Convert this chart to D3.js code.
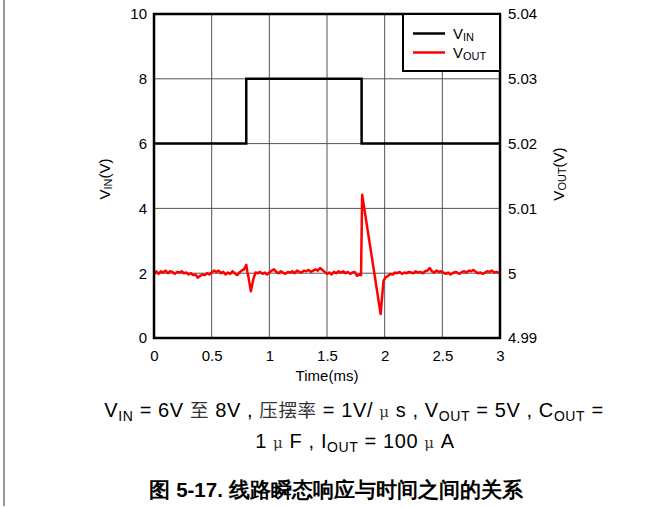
<!DOCTYPE html>
<html><head><meta charset="utf-8">
<script src="https://cdn.jsdelivr.net/npm/d3@7/dist/d3.min.js"></script>
<style>
body{margin:0;background:#fff;}
svg{display:block;}
text{font-family:"Liberation Sans",Arial,sans-serif;}
.cjk{font-family:"Noto Sans CJK SC",sans-serif;}
</style></head><body>
<svg id="c" width="662" height="508"></svg>
<script>
// ---- data ----
const xTicks = [0, 0.5, 1, 1.5, 2, 2.5, 3];
const xTickLabels = ["0", "0.5", "1", "1.5", "2", "2.5", "3"];
const yLeftTicks = [0, 2, 4, 6, 8, 10];
const yRightTicks = [4.99, 5, 5.01, 5.02, 5.03, 5.04];
const yRightLabels = ["4.99", "5", "5.01", "5.02", "5.03", "5.04"];

const vinTime  = [0, 0.80, 0.80, 1.80, 1.80, 3.0];
const vinValue = [6, 6, 8, 8, 6, 6];

const voutTime = [
 0.00,0.02,0.04,0.06,0.08,0.10,0.12,0.14,0.16,0.18,0.20,0.22,0.24,0.26,0.28,0.30,0.32,0.34,0.36,0.38,
 0.40,0.42,0.44,0.46,0.48,0.50,0.52,0.54,0.56,0.58,0.60,0.62,0.64,0.66,0.68,0.70,0.72,0.74,0.76,0.78,
 0.80,0.81,0.82,0.84,0.86,0.88,0.90,0.92,0.94,0.96,0.98,1.00,1.02,1.04,1.06,1.08,1.10,1.12,1.14,1.16,
 1.18,1.20,1.22,1.24,1.26,1.28,1.30,1.32,1.34,1.36,1.38,1.40,1.42,1.44,1.46,1.48,1.50,1.52,1.54,1.56,
 1.58,1.60,1.62,1.64,1.66,1.68,1.70,1.72,1.74,1.76,1.78,1.795,1.805,1.965,1.99,2.01,2.03,2.05,2.07,2.09,
 2.11,2.13,2.15,2.17,2.19,2.21,2.23,2.25,2.27,2.29,2.31,2.33,2.35,2.37,2.39,2.41,2.43,2.45,2.47,2.49,
 2.51,2.53,2.55,2.57,2.59,2.61,2.63,2.65,2.67,2.69,2.71,2.73,2.75,2.77,2.79,2.81,2.83,2.85,2.87,2.89,
 2.91,2.93,2.95,2.97,3.00
];
const voutValue = [
 4.9998,5.0003,4.9999,5.0003,5.0001,5.0004,5.0000,5.0003,5.0002,4.9999,5.0002,5.0001,5.0003,5.0000,5.0001,4.9998,5.0000,4.9997,4.9998,4.9993,
 4.9996,4.9998,4.9997,5.0000,4.9998,5.0001,5.0004,5.0002,5.0004,5.0000,5.0002,4.9998,5.0001,4.9999,5.0003,5.0000,4.9997,5.0001,5.0004,5.0006,
 5.0013,5.0002,4.9993,4.9972,4.9990,5.0001,5.0000,5.0002,4.9999,5.0001,4.9998,5.0001,5.0004,5.0006,5.0002,5.0000,5.0003,5.0001,4.9999,5.0002,
 5.0001,5.0003,5.0000,5.0004,5.0002,5.0001,5.0004,5.0003,5.0005,5.0002,5.0004,5.0006,5.0004,5.0008,5.0005,5.0002,4.9999,5.0001,4.9998,5.0002,
 5.0000,5.0003,5.0001,5.0003,5.0000,5.0002,4.9999,5.0001,5.0002,4.9996,4.9998,4.9997,5.0121,4.9937,4.9988,4.9994,4.9996,4.9999,4.9998,5.0001,
 5.0000,5.0002,4.9999,5.0001,5.0000,5.0002,5.0001,5.0000,5.0003,5.0001,5.0002,5.0000,5.0003,5.0004,5.0008,5.0003,5.0001,5.0004,5.0002,5.0003,
 5.0001,4.9999,5.0001,4.9998,5.0000,5.0002,5.0001,4.9999,5.0002,5.0003,5.0001,5.0004,5.0003,5.0005,5.0002,5.0000,5.0001,4.9999,5.0001,5.0003,
 5.0002,5.0004,5.0001,5.0002,5.0000
];

// ---- layout ----
const svg = d3.select("#c");
const L = 154, R = 500, T = 14, B = 338;
const x = d3.scaleLinear().domain([0, 3]).range([L, R]);
const yL = d3.scaleLinear().domain([0, 10]).range([B, T]);
const yR = d3.scaleLinear().domain([4.99, 5.04]).range([B, T]);

// page left border line
svg.append("line").attr("x1",4).attr("x2",4).attr("y1",0).attr("y2",506)
  .attr("stroke","#777").attr("stroke-width",1.5);

// grid
const g = svg.append("g");
g.selectAll(".vg").data(xTicks.slice(1,-1)).join("line")
  .attr("x1", d=>x(d)).attr("x2", d=>x(d)).attr("y1", T).attr("y2", B)
  .attr("stroke", "#555").attr("stroke-width", 1);
g.selectAll(".hg").data(yLeftTicks.slice(1,-1)).join("line")
  .attr("x1", L).attr("x2", R).attr("y1", d=>yL(d)).attr("y2", d=>yL(d))
  .attr("stroke", "#555").attr("stroke-width", 1);

// axes (labels only)
const axL = svg.append("g").attr("transform", `translate(${L},0)`)
  .call(d3.axisLeft(yL).tickValues(yLeftTicks).tickSize(0).tickPadding(7));
const axR = svg.append("g").attr("transform", `translate(${R},0)`)
  .call(d3.axisRight(yR).tickValues(yRightTicks).tickSize(0).tickPadding(8)
  .tickFormat((d,i)=>yRightLabels[i]));
const axB = svg.append("g").attr("transform", `translate(0,${B})`)
  .call(d3.axisBottom(x).tickValues(xTicks).tickSize(0).tickPadding(12)
  .tickFormat((d,i)=>xTickLabels[i]));
[axL, axR, axB].forEach(a=>{
  a.select(".domain").remove();
  a.selectAll("text").attr("font-size", 15).attr("fill","#000")
   .attr("font-family",'"Liberation Sans",Arial,sans-serif');
});

// lines
const lineVin = d3.line().x((d,i)=>x(vinTime[i])).y((d,i)=>yL(vinValue[i]));
svg.append("path").attr("d", lineVin(vinTime)).attr("fill","none")
  .attr("stroke","#000").attr("stroke-width",2.5);
const lineVout = d3.line().x((d,i)=>x(voutTime[i])).y((d,i)=>yR(voutValue[i]));
svg.append("path").attr("d", lineVout(voutTime)).attr("fill","none")
  .attr("stroke","#ff0000").attr("stroke-width",2.5).attr("stroke-linejoin","round");

// frame
svg.append("rect").attr("x",L).attr("y",T).attr("width",R-L).attr("height",B-T)
  .attr("fill","none").attr("stroke","#000").attr("stroke-width",2.5);

// legend
const lg = svg.append("g");
lg.append("rect").attr("x",403).attr("y",T).attr("width",R-403).attr("height",57)
  .attr("fill","#fff").attr("stroke","#000").attr("stroke-width",2);
const legItems = [{n:"V", s:"IN", c:"#000", y:33.5},{n:"V", s:"OUT", c:"#ff0000", y:52.5}];
legItems.forEach(it=>{
  lg.append("line").attr("x1",413).attr("x2",445).attr("y1",it.y).attr("y2",it.y)
    .attr("stroke",it.c).attr("stroke-width",2.5);
  const t = lg.append("text").attr("x",453).attr("y",it.y+5).attr("font-size",15);
  t.append("tspan").text(it.n);
  t.append("tspan").attr("font-size",11).attr("dy",2).text(it.s);
});

// axis titles
const tl = svg.append("text").attr("transform","translate(110,179) rotate(-90)")
  .attr("text-anchor","middle").attr("font-size",15);
tl.append("tspan").text("V");
tl.append("tspan").attr("font-size",11).attr("dy",2).text("IN");
tl.append("tspan").attr("dy",-2).text("(V)");
const tr = svg.append("text").attr("transform","translate(564,174) rotate(-90)")
  .attr("text-anchor","middle").attr("font-size",15);
tr.append("tspan").text("V");
tr.append("tspan").attr("font-size",11).attr("dy",2).text("OUT");
tr.append("tspan").attr("dy",-2).text("(V)");
svg.append("text").attr("x",327).attr("y",381).attr("text-anchor","middle")
  .attr("font-size",15).text("Time(ms)");

// caption: flowing segments [text, kind]
function cap(y, cx, segs){
  const t = svg.append("text").attr("x",cx).attr("y",y).attr("text-anchor","middle")
    .attr("font-size",20).attr("letter-spacing",0.6);
  let shift = 0;
  segs.forEach(s=>{
    const target = s[1]==="sub" ? 4 : 0;
    const sp = t.append("tspan").attr("dy", target - shift).text(s[0]);
    shift = target;
    if(s[1]==="cjk") sp.attr("class","cjk").attr("font-size",18.5).attr("fill","#333");
    if(s[1]==="mu") sp.attr("font-family",'"DejaVu Serif",serif').attr("font-size",15).attr("fill","#333");
    if(s[1]==="sub") sp.attr("font-size",14);
  });
}
cap(417, 354, [["V"],["IN","sub"],[" = 6V "],["至","cjk"],[" 8V , "],["压摆率","cjk"],[" = 1V/ "],["μ","mu"],[" s , V"],
  ["OUT","sub"],[" = 5V , C"],["OUT","sub"],[" ="]]);
cap(448, 355, [["1 "],["μ","mu"],[" F , I"],["OUT","sub"],[" = 100 "],["μ","mu"],[" A"]]);
svg.append("text").attr("x",336).attr("y",497).attr("text-anchor","middle")
  .attr("font-size",20.5).attr("font-weight","bold")
  .attr("font-family",'"Noto Sans CJK SC","Liberation Sans",sans-serif')
  .text("图 5-17. 线路瞬态响应与时间之间的关系");
</script></body></html>
